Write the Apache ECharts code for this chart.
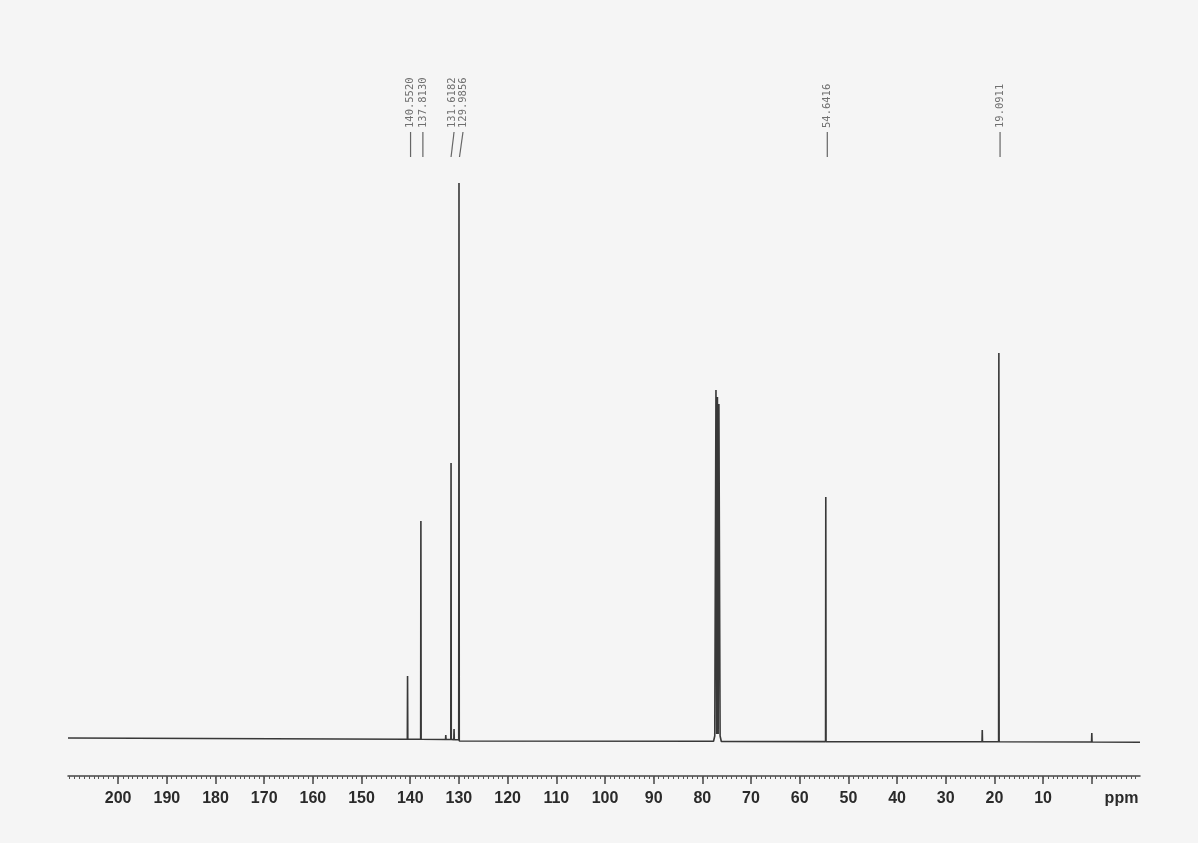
<!DOCTYPE html>
<html>
<head>
<meta charset="utf-8">
<script src="https://cdn.jsdelivr.net/npm/echarts@6/dist/echarts.min.js"></script>
<style>
html,body{margin:0;padding:0;background:#f5f5f5;}
#chart{width:1198px;height:843px;}
</style>
</head>
<body>
<div id="chart"></div>
<script>
// ---- data (ppm, intensity) ----
const axisMin = -9.9;
const axisMax = 210.3;
const majorTickValues = [200,190,180,170,160,150,140,130,120,110,100,90,80,70,60,50,40,30,20,10,0];
const majorLabelValues = [200,190,180,170,160,150,140,130,120,110,100,90,80,70,60,50,40,30,20,10];
const unitLabelPos = -6.1;
const unitLabel = 'ppm';
const peakLabelPpm = [140.5520, 137.8130, 131.6182, 129.9856, 54.6416, 19.0911];
// per-label leader offsets (px): bottom of leader, top of leader, text
const leaderBottomDx = [3, 2, 0, 0.5, 1.5, 1.2];
const leaderTopDx    = [3, 2, 3, 4, 1.5, 1.2];
const labelTextDx    = [3, 2, 1.5, 4.5, 1.5, 1.2];
const spectrum = [
  [210.3, 2.0],
  [140.60, 0.8], [140.552, 64], [140.50, 0.8],
  [137.86, 0.7], [137.813, 219], [137.76, 0.7],
  [132.75, 0.5], [132.70, 5], [132.65, 0.5],
  [131.67, 0.5], [131.618, 277], [131.57, 0.5],
  [131.05, 0.4], [131.00, 11], [130.95, 0.4],
  [130.04, 0.3], [129.986, 557], [129.93, -1.0],
  [77.70, -1.2], [77.45, 4], [77.20, 350], [77.05, 6], [76.90, 343], [76.75, 6], [76.60, 336], [76.35, 4], [76.10, -1.5],
  [54.69, -1.6], [54.6416, 243], [54.59, -1.6],
  [22.55, -1.8], [22.50, 10], [22.45, -1.8],
  [19.14, -1.8], [19.0911, 387], [19.04, -1.8],
  [0.05, -2.0], [0.00, 7], [-0.05, -2.0],
  [-9.9, -2.2]
];

const minorTickValues = [];
for (let v = Math.ceil(axisMin); v <= Math.floor(axisMax); v++) minorTickValues.push(v);

const chart = echarts.init(document.getElementById('chart'));
const gridRect = {left: 68, right: 58, top: 140, bottom: 67};
const option = {
  backgroundColor: '#f5f5f5',
  animation: false,
  grid: [Object.assign({}, gridRect), Object.assign({}, gridRect)],
  xAxis: [{
    type: 'value', gridIndex: 0, min: axisMin, max: axisMax, inverse: true,
    splitLine: {show: false},
    axisLine: {show: true, onZero: false, lineStyle: {color: '#444', width: 1.5}},
    axisTick: {show: true, customValues: majorTickValues, length: 8, lineStyle: {color: '#444', width: 1.5}},
    axisLabel: {
      show: true, customValues: majorLabelValues.concat([unitLabelPos]),
      margin: 15, color: '#2a2a2a', fontFamily: 'Liberation Sans, Arial, sans-serif',
      fontWeight: 'bold', fontSize: 16,
      formatter: v => (v < 0 ? unitLabel : String(v))
    }
  }, {
    type: 'value', gridIndex: 1, min: axisMin, max: axisMax, inverse: true,
    splitLine: {show: false},
    axisLine: {show: false, onZero: false},
    axisTick: {show: true, customValues: minorTickValues, length: 3, lineStyle: {color: '#555', width: 1}},
    axisLabel: {show: false}
  }],
  yAxis: [{
    type: 'value', gridIndex: 0, min: -36, max: 600, show: false, splitLine: {show: false}
  }, {
    type: 'value', gridIndex: 1, min: -36, max: 600, show: false, splitLine: {show: false}
  }],
  series: [{
    type: 'line', xAxisIndex: 0, yAxisIndex: 0,
    data: spectrum, showSymbol: false, symbol: 'none',
    lineStyle: {color: '#383838', width: 1.6}, clip: false
  }, {
    type: 'custom', xAxisIndex: 0, yAxisIndex: 0, clip: false,
    data: peakLabelPpm.map(p => [p, 0]),
    renderItem: function (params, api) {
      const i = params.dataIndex;
      const p = api.value(0);
      const x = api.coord([p, 0])[0];
      return {
        type: 'group',
        children: [{
          type: 'line',
          shape: {x1: x + leaderBottomDx[i], y1: 157, x2: x + leaderTopDx[i], y2: 132},
          style: {stroke: '#666', lineWidth: 1.2}
        }, {
          type: 'text',
          x: x + labelTextDx[i], y: 128, rotation: Math.PI / 2,
          style: {
            text: p.toFixed(4), fill: '#707070',
            font: '10.5px "DejaVu Sans Mono", monospace',
            align: 'left', verticalAlign: 'middle'
          }
        }]
      };
    }
  }]
};
chart.setOption(option);
</script>
</body>
</html>
